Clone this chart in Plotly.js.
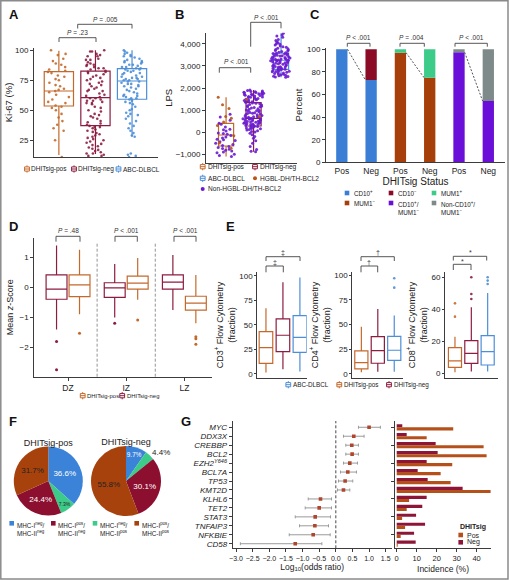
<!DOCTYPE html>
<html>
<head>
<meta charset="utf-8">
<script src="https://cdn.plot.ly/plotly-3.0.1.min.js"></script>
<style>
html,body{margin:0;padding:0;background:#fff;}
#chart{width:509px;height:580px;}
</style>
</head>
<body>
<div id="chart"></div>
<script>
// ================= DATA =================
// Panel A - Ki-67 (%)
const groupsA = ['DHITsig-pos', 'DHITsig-neg', 'ABC-DLBCL'];
const ki67Q1 = [53.6, 37.2, 59.2];
const ki67Median = [66.1, 60.5, 74.4];
const ki67Q3 = [82.2, 82.7, 84.7];
const ki67Low = [12.8, 13.6, 28.0];
const ki67High = [99.6, 100, 100];
const ki67Pos = [100, 97, 96, 93, 91, 89, 88, 86, 84, 83, 82, 81, 79, 78, 76, 75, 73, 71, 70, 68, 67, 66, 65, 63, 61, 59, 57, 56, 54, 53, 52, 50, 47, 44, 41, 38, 35, 33, 25, 11];
const ki67Neg = [100, 99, 99, 97, 96, 95, 93, 92, 92, 90, 89, 88, 87, 86, 85, 85, 84, 83, 82, 82, 81, 80, 78, 77, 76, 75, 74, 73, 72, 71, 70, 68, 67, 66, 66, 64, 63, 62, 61, 60, 60, 59, 58, 57, 56, 56, 55, 53, 52, 50, 49, 47, 46, 44, 43, 41, 40, 39, 38, 37, 36, 36, 35, 33, 32, 31, 30, 29, 28, 27, 26, 25, 24, 22, 21, 20, 19, 18, 17, 16, 15, 14, 14, 13, 12, 12, 88, 79, 69, 58, 45, 34, 23, 95];
const ki67Abc = [100, 99, 98, 97, 96, 95, 95, 94, 93, 92, 91, 90, 90, 89, 88, 88, 87, 86, 86, 85, 85, 84, 83, 83, 82, 81, 81, 80, 79, 78, 78, 77, 76, 76, 75, 75, 74, 74, 73, 72, 72, 71, 70, 69, 68, 67, 66, 65, 64, 63, 62, 61, 60, 60, 59, 58, 56, 55, 53, 51, 50, 48, 47, 45, 43, 41, 39, 37, 35, 33, 31, 29, 28, 14, 13, 12, 11, 10, 91, 84, 77, 70, 62, 57, 46];

// Panel B - LPS
const lpsQ1 = [-620, 285, 2850];
const lpsMedian = [-122, 633, 3258];
const lpsQ3 = [407, 1340, 3575];
const lpsLow = [-1100, -877, 2490];
const lpsHigh = [1584, 1914, 4480];
const lpsPosHGBL = [1584, 1250, 1080, 720, 640, 470, 310, -160, -480, -720];
const lpsPosNon = [820, 690, 540, 410, 360, 240, 140, 60, -30, -90, -140, -210, -260, -310, -370, -430, -490, -550, -600, -640, -690, -730, -770, -810, -850, -890, -930, -990, -1050, -1100, 110, -60, -340];
const lpsNegHGBL = [1480, 720];
const lpsNegNon = [1914, 1890, 1870, 1850, 1835, 1820, 1800, 1785, 1770, 1750, 1740, 1720, 1700, 1690, 1675, 1660, 1640, 1620, 1600, 1575, 1550, 1530, 1510, 1490, 1470, 1440, 1420, 1400, 1380, 1355, 1330, 1310, 1290, 1260, 1230, 1200, 1180, 1150, 1125, 1100, 1070, 1040, 1010, 990, 960, 930, 900, 880, 855, 830, 810, 790, 765, 740, 720, 700, 685, 670, 655, 640, 625, 610, 595, 580, 560, 540, 520, 500, 485, 470, 455, 440, 425, 410, 390, 370, 350, 330, 310, 290, 275, 260, 240, 215, 190, 160, 130, 100, 70, 40, 10, -40, -110, -190, -270, -380, -500, -640, -780, -877, -860, 1710, 1460, 1160, 860, 560, 360, 170, 1590, 1380, 980, 620, 450, 1810];
const lpsAbcNon = [4480, 4400, 4350, 4300, 4200, 4150, 4100, 4050, 4000, 3980, 3950, 3900, 3870, 3850, 3800, 3780, 3750, 3720, 3700, 3680, 3650, 3620, 3600, 3580, 3560, 3540, 3520, 3500, 3480, 3460, 3440, 3420, 3400, 3380, 3360, 3340, 3320, 3300, 3290, 3280, 3270, 3260, 3250, 3240, 3230, 3220, 3200, 3180, 3160, 3140, 3120, 3100, 3080, 3060, 3040, 3020, 3000, 2980, 2960, 2940, 2920, 2900, 2880, 2860, 2850, 2840, 2820, 2800, 2780, 2760, 2740, 2720, 2700, 2680, 2660, 2640, 2620, 2600, 2580, 2560, 2540, 2520, 2500, 2490, 3350, 3150, 2950, 2750, 3550, 3450];

// Panel C - IHC percentages
const ihcBars = [0, 1, 2, 3, 4, 5];
const ihcTicks = ['Pos', 'Neg', 'Pos', 'Neg', 'Pos', 'Neg'];
const cd10Pos = [100, 72.8];
const cd10Neg = [0, 27.2];
const mum1Neg = [97.0, 74.9];
const mum1Pos = [3.0, 25.1];
const cd10PosMum1Neg = [97.3, 54.2];
const nonCd10PosMum1Neg = [2.7, 45.8];
const pvalC = ['<i>P</i> &lt; .001', '<i>P</i> = .004', '<i>P</i> &lt; .001'];

// Panel D - mean z-score by zone
const zones = ['DZ', 'IZ', 'LZ'];
const zNegQ1 = [-0.39, -0.33, -0.05];
const zNegMedian = [-0.05, -0.01, 0.18];
const zNegQ3 = [0.42, 0.16, 0.42];
const zNegLow = [-1.40, -1.00, -0.75];
const zNegHigh = [1.40, 0.78, 1.08];
const zPosQ1 = [-0.30, -0.05, -0.75];
const zPosMedian = [0.09, 0.15, -0.52];
const zPosQ3 = [0.42, 0.38, -0.29];
const zPosLow = [-0.89, -0.41, -1.19];
const zPosHigh = [1.26, 0.98, 0.42];
const zNegOutZone = ['DZ', 'DZ', 'IZ'];
const zNegOut = [-1.80, -2.74, -1.19];
const zPosOutZone = ['DZ', 'IZ', 'LZ', 'LZ', 'LZ'];
const zPosOut = [-1.52, -1.08, -1.64, -1.71, -1.89];
const pvalD = ['<i>P</i> = .48', '<i>P</i> &lt; .001', '<i>P</i> &lt; .001'];

// Panel E - flow cytometry (order: pos, neg, ABC)
const cd3Q1 = [10.9, 22.8, 22.1], cd3Median = [26.9, 39.5, 37.4], cd3Q3 = [43.2, 56.1, 59.5], cd3Low = [1.4, 4.8, 2.4], cd3High = [67.0, 93.5, 98.3];
const cd4Q1 = [4.8, 10.6, 13.6], cd4Median = [11.2, 23.4, 23.8], cd4Q3 = [23.1, 37.6, 38.0], cd4Low = [1.4, 2.0, 2.0], cd4High = [47.8, 65.8, 59.0];
const cd4OutGroup = ['ABC-DLBCL', 'ABC-DLBCL'];
const cd4Out = [97.0, 87.4];
const cd8Q1 = [3.75, 6.2, 5.2], cd8Median = [7.7, 12.5, 13.5], cd8Q3 = [16.0, 20.4, 23.5], cd8Low = [0.6, 1.2, 1.2], cd8High = [22.9, 41.2, 50.2];
const cd8OutGroup = ['DHITsig-pos', 'DHITsig-pos', 'DHITsig-neg', 'DHITsig-neg', 'DHITsig-neg', 'ABC-DLBCL', 'ABC-DLBCL', 'ABC-DLBCL'];
const cd8Out = [43.7, 35.4, 60.0, 49.5, 46.4, 60.0, 57.9, 55.8];
const sigE = ['‡', '†', '*'];

// Panel F - MHC pies (slice order clockwise from 12 o'clock)
const mhcLabels = ['MHC-I<sup>neg</sup>/<br>MHC-II<sup>neg</sup>', 'MHC-I<sup>neg</sup>/<br>MHC-II<sup>pos</sup>', 'MHC-I<sup>pos</sup>/<br>MHC-II<sup>neg</sup>', 'MHC-I<sup>pos</sup>/<br>MHC-II<sup>pos</sup>'];
const mhcPos = [36.6, 7.3, 24.4, 31.7];
const mhcNeg = [9.7, 4.4, 30.1, 55.8];
const mhcLegendOrder = [0, 2, 1, 3];

// Panel G - mutations
const genes = ['MYC', 'DDX3X', 'CREBBP', 'BCL2', 'EZH2', 'BCL7A', 'TP53', 'KMT2D', 'KLHL6', 'TET2', 'STAT3', 'TNFAIP3', 'NFKBIE', 'CD58'];
const geneLabels = ['MYC', 'DDX3X', 'CREBBP', 'BCL2', 'EZH2<sup>Y646</sup>', 'BCL7A', 'TP53', 'KMT2D', 'KLHL6', 'TET2', 'STAT3', 'TNFAIP3', 'NFKBIE', 'CD58'];
const logOR = [1.00, 0.54, 0.48, 0.49, 0.42, 0.36, 0.28, 0.23, -0.46, -0.50, -0.62, -0.63, -0.68, -1.22];
const ciLow = [0.68, 0.23, 0.30, 0.30, 0.23, 0.14, 0.08, 0.05, -0.83, -0.92, -1.22, -1.09, -1.40, -2.87];
const ciHigh = [1.34, 0.85, 0.68, 0.68, 0.65, 0.62, 0.51, 0.42, -0.13, -0.13, -0.16, -0.22, -0.17, -0.42];
const incPos = [28.3, 15.0, 43.5, 45.0, 27.8, 22.0, 27.0, 47.0, 6.2, 5.0, 2.7, 4.2, 2.0, 0.5];
const incNeg = [2.8, 5.0, 19.5, 20.5, 15.0, 10.5, 15.5, 33.0, 15.0, 12.8, 9.7, 14.2, 8.7, 9.5];

// ================= STYLE / HELPERS =================
const W = 509, H = 580;
const X = p => p / W;
const Y = p => 1 - p / H;
const FONT = 'Liberation Sans, Arial, Helvetica, sans-serif';
const C_POS = '#C4692C', C_NEG = '#8C1D40', C_ABC = '#4C8ED8';
const C_PURPLE = '#6A1BD0', C_HGBL = '#B5561A';
const colsA = [C_POS, C_NEG, C_ABC];
const C_IHC = {blue: '#3B7ED6', red: '#8B0A25', green: '#3DCB8A', brown: '#A63F0A', purple: '#6A0FD8', gray: '#7E8A8A'};
const pieCols = ['#3B82D9', '#3DCB8A', '#8C0F30', '#A8420C'];

const traces = [], shapes = [], annotations = [];

function axis(o) {
  return Object.assign({
    showline: true, linecolor: '#3c3c3c', linewidth: 1,
    ticks: 'outside', ticklen: 3, tickwidth: 1, tickcolor: '#3c3c3c',
    showgrid: false, zeroline: false, fixedrange: true, automargin: false,
    tickfont: {family: FONT, size: 8, color: '#222'}
  }, o);
}
function ttl(text, size, standoff) {
  return {text: text, font: {family: FONT, size: size, color: '#222'}, standoff: standoff};
}
function statBoxes(xa, ya, cats, q1, med, q3, lo, hi, colors, width, group) {
  cats.forEach((c, i) => traces.push({
    type: 'box', xaxis: xa, yaxis: ya, name: c, x: [c],
    q1: [q1[i]], median: [med[i]], q3: [q3[i]], lowerfence: [lo[i]], upperfence: [hi[i]],
    width: width, whiskerwidth: 0, boxpoints: false,
    line: {color: colors[i], width: 1.2}, fillcolor: 'rgba(255,255,255,0)',
    showlegend: false, hoverinfo: 'skip', alignmentgroup: group, offsetgroup: group
  }));
}
function pointBox(xa, ya, cat, vals, color, width, jitter, size, group, offs) {
  traces.push({
    type: 'box', xaxis: xa, yaxis: ya, x: vals.map(() => cat), y: vals,
    boxpoints: 'all', jitter: jitter, pointpos: 0, width: width, whiskerwidth: 0,
    line: {width: 0, color: 'rgba(0,0,0,0)'}, fillcolor: 'rgba(0,0,0,0)',
    marker: {color: color, size: size, opacity: 0.9, line: {width: 0}},
    showlegend: false, hoverinfo: 'skip', alignmentgroup: group, offsetgroup: offs || group
  });
}
function bracket(x1, x2, y, leg1, leg2, text, lx, ly, size) {
  shapes.push({type: 'path', xref: 'paper', yref: 'paper',
    path: 'M' + X(x1) + ',' + Y(leg1) + ' L' + X(x1) + ',' + Y(y) + ' L' + X(x2) + ',' + Y(y) + ' L' + X(x2) + ',' + Y(leg2),
    line: {color: '#444', width: 0.9}});
  annotations.push({xref: 'paper', yref: 'paper', x: X(lx), y: Y(ly), text: text, showarrow: false,
    xanchor: 'center', yanchor: 'middle', font: {family: FONT, size: size || 6.5, color: '#333'}});
}
function label(x, y, text, size, opts) {
  annotations.push(Object.assign({xref: 'paper', yref: 'paper', x: X(x), y: Y(y), text: text, showarrow: false,
    xanchor: 'left', yanchor: 'middle', align: 'left', borderpad: 0,
    font: {family: FONT, size: size, color: '#222'}}, opts || {}));
}
function boxIcon(cx, cy, color) {
  const L = {color: color, width: 1};
  const b = {xref: 'paper', yref: 'paper', line: L};
  shapes.push(Object.assign({type: 'rect', x0: X(cx - 2.4), x1: X(cx + 2.4), y0: Y(cy + 2.1), y1: Y(cy - 2.1), fillcolor: 'rgba(0,0,0,0)'}, b));
  shapes.push(Object.assign({type: 'line', x0: X(cx - 2.4), x1: X(cx + 2.4), y0: Y(cy), y1: Y(cy)}, b));
  shapes.push(Object.assign({type: 'line', x0: X(cx), x1: X(cx), y0: Y(cy - 2.1), y1: Y(cy - 3.6)}, b));
  shapes.push(Object.assign({type: 'line', x0: X(cx), x1: X(cx), y0: Y(cy + 2.1), y1: Y(cy + 3.6)}, b));
}
function square(cx, cy, color, s) {
  s = s || 4.6;
  shapes.push({type: 'rect', xref: 'paper', yref: 'paper', x0: X(cx - s / 2), x1: X(cx + s / 2), y0: Y(cy + s / 2), y1: Y(cy - s / 2), line: {width: 0}, fillcolor: color});
}
function dot(cx, cy, color) {
  shapes.push({type: 'circle', xref: 'paper', yref: 'paper', x0: X(cx - 2), x1: X(cx + 2), y0: Y(cy + 2), y1: Y(cy - 2), line: {width: 0}, fillcolor: color});
}

// ================= PANEL A =================
statBoxes('x', 'y', groupsA, ki67Q1, ki67Median, ki67Q3, ki67Low, ki67High, colsA, 0.8, 'A');
[ki67Pos, ki67Neg, ki67Abc].forEach((v, i) => pointBox('x', 'y', groupsA[i], v, colsA[i], 0.8, 0.8, 2.6, 'A'));
bracket(59, 96, 37.7, 42, 42, '<i>P</i> = .23', 77.5, 32);
bracket(77.7, 132, 24.3, 28.5, 28.5, '<i>P</i> = .005', 105, 20);
[[27, 30.2], [74, 77.2], [118.5, 121.7]].forEach((p, i) => { boxIcon(p[0], 169, colsA[i]); label(p[1], 169, groupsA[i], 6.5); });

// ================= PANEL B =================
statBoxes('x2', 'y2', groupsA, lpsQ1, lpsMedian, lpsQ3, lpsLow, lpsHigh, colsA, 0.55, 'B');
pointBox('x2', 'y2', groupsA[0], lpsPosNon, C_PURPLE, 0.8, 1, 3, 'B');
pointBox('x2', 'y2', groupsA[0], lpsPosHGBL, C_HGBL, 0.8, 1, 3, 'B');
pointBox('x2', 'y2', groupsA[1], lpsNegNon, C_PURPLE, 0.8, 1, 3, 'B');
pointBox('x2', 'y2', groupsA[1], lpsNegHGBL, C_HGBL, 0.8, 1, 3, 'B');
pointBox('x2', 'y2', groupsA[2], lpsAbcNon, C_PURPLE, 0.8, 1, 3, 'B');
bracket(219.3, 250.7, 67.7, 72.7, 72.7, '<i>P</i> &lt; .001', 236.7, 61.7);
bracket(250.7, 281, 22.3, 46.7, 28.3, '<i>P</i> &lt; .001', 266.7, 17.3);
boxIcon(202.7, 166.7, C_POS); label(206.8, 166.7, groupsA[0], 6.6);
boxIcon(255, 166.7, C_NEG); label(259.1, 166.7, groupsA[1], 6.6);
boxIcon(202.7, 178.3, C_ABC); label(206.8, 178.3, groupsA[2], 6.6);
dot(255, 178.3, C_HGBL); label(259.1, 178.3, 'HGBL-DH/TH-BCL2', 6.6);
dot(202.7, 189, C_PURPLE); label(206.8, 189, 'Non-HGBL-DH/TH-BCL2', 6.6);

// ================= PANEL C =================
const wC = 0.386;
const cBar = (xs, ys, base, color, name) => traces.push({type: 'bar', xaxis: 'x3', yaxis: 'y3', x: xs, y: ys, base: base,
  width: wC, marker: {color: color, line: {width: 0}}, name: name, offsetgroup: 'C', alignmentgroup: 'C', showlegend: false, hoverinfo: 'skip'});
cBar(ihcBars.slice(0, 2), cd10Pos, undefined, C_IHC.blue, 'CD10+');
cBar(ihcBars.slice(0, 2), cd10Neg, cd10Pos, C_IHC.red, 'CD10-');
cBar(ihcBars.slice(2, 4), mum1Neg, undefined, C_IHC.brown, 'MUM1-');
cBar(ihcBars.slice(2, 4), mum1Pos, mum1Neg, C_IHC.green, 'MUM1+');
cBar(ihcBars.slice(4, 6), cd10PosMum1Neg, undefined, C_IHC.purple, 'CD10+/MUM1-');
cBar(ihcBars.slice(4, 6), nonCd10PosMum1Neg, cd10PosMum1Neg, C_IHC.gray, 'Non-CD10+/MUM1-');
[[cd10Pos, 0], [mum1Neg, 2], [cd10PosMum1Neg, 4]].forEach(([arr, i]) => shapes.push({type: 'line', xref: 'x3', yref: 'y3',
  x0: ihcBars[i] + wC / 2, y0: arr[0], x1: ihcBars[i + 1] - wC / 2, y1: arr[1], line: {color: '#555', width: 1, dash: '2px,1.6px'}}));
bracket(347.3, 370, 43.3, 46.7, 46.7, pvalC[0], 358.3, 37.7);
bracket(400, 424.3, 43.3, 46.7, 46.7, pvalC[1], 411.7, 37.7);
bracket(455, 487.3, 43.3, 46.7, 46.7, pvalC[2], 471, 37.7);
square(347, 193, C_IHC.blue); label(352.5, 193, 'CD10<sup>+</sup>', 6.3);
square(391, 193, C_IHC.red); label(396.5, 193, 'CD10<sup>−</sup>', 6.3);
square(434, 193, C_IHC.green); label(439.5, 193, 'MUM1<sup>+</sup>', 6.3);
square(347, 203, C_IHC.brown); label(352.5, 203, 'MUM1<sup>−</sup>', 6.3);
square(391, 203, C_IHC.purple); label(396.5, 199, 'CD10<sup>+</sup>/<br>MUM1<sup>−</sup>', 6.3, {yanchor: 'top'});
square(434, 203, C_IHC.gray); label(439.5, 199, 'Non-CD10<sup>+</sup>/<br>MUM1<sup>−</sup>', 6.3, {yanchor: 'top'});

// ================= PANEL D =================
const dBox = (q1, med, q3, lo, hi, color, grp) => traces.push({type: 'box', xaxis: 'x4', yaxis: 'y4', x: zones,
  q1: q1, median: med, q3: q3, lowerfence: lo, upperfence: hi, whiskerwidth: 0, boxpoints: false,
  line: {color: color, width: 1.2}, fillcolor: '#ffffff', alignmentgroup: 'D', offsetgroup: grp, showlegend: false, hoverinfo: 'skip'});
dBox(zNegQ1, zNegMedian, zNegQ3, zNegLow, zNegHigh, C_NEG, 'neg');
dBox(zPosQ1, zPosMedian, zPosQ3, zPosLow, zPosHigh, C_POS, 'pos');
const dOut = (xs, ys, color, grp) => traces.push({type: 'box', xaxis: 'x4', yaxis: 'y4', x: xs, y: ys,
  boxpoints: 'all', jitter: 0, pointpos: 0, line: {width: 0, color: 'rgba(0,0,0,0)'}, fillcolor: 'rgba(0,0,0,0)',
  marker: {color: color, size: 3, line: {width: 0}}, alignmentgroup: 'D', offsetgroup: grp, showlegend: false, hoverinfo: 'skip'});
dOut(zNegOutZone, zNegOut, C_NEG, 'neg');
dOut(zPosOutZone, zPosOut, C_POS, 'pos');
[0.5, 1.5].forEach(v => shapes.push({type: 'line', xref: 'x4', yref: 'y4 domain', x0: v, x1: v, y0: 0, y1: 0.97,
  line: {color: '#777', width: 0.8, dash: '3px,2px'}}));
bracket(56, 80, 236.3, 241.7, 241.7, pvalD[0], 68, 230);
bracket(115, 137.3, 236.3, 241.7, 241.7, pvalD[1], 126, 230);
bracket(174, 196, 236.3, 241.7, 241.7, pvalD[2], 185, 230);
boxIcon(82.7, 395.7, C_POS); label(86.3, 395.7, groupsA[0], 5.9);
boxIcon(122.2, 395.7, C_NEG); label(125.8, 395.7, groupsA[1], 5.9);

// ================= PANEL E =================
statBoxes('x5', 'y5', groupsA, cd3Q1, cd3Median, cd3Q3, cd3Low, cd3High, colsA, 0.8, 'E1');
statBoxes('x6', 'y6', groupsA, cd4Q1, cd4Median, cd4Q3, cd4Low, cd4High, colsA, 0.8, 'E2');
statBoxes('x7', 'y7', groupsA, cd8Q1, cd8Median, cd8Q3, cd8Low, cd8High, colsA, 0.8, 'E3');
const eOut = (xa, ya, grpNames, vals, group) => groupsA.forEach((g, i) => {
  const v = vals.filter((_, k) => grpNames[k] === g);
  if (v.length) pointBox(xa, ya, g, v, colsA[i], 0.8, 0, 2.6, group);
});
eOut('x6', 'y6', cd4OutGroup, cd4Out, 'E2');
eOut('x7', 'y7', cd8OutGroup, cd8Out, 'E3');
bracket(266, 300, 256.7, 261, 261, sigE[0], 283.3, 252.3, 7);
bracket(266, 283.3, 266, 272.3, 272.3, sigE[0], 275, 262.3, 7);
bracket(361, 394.3, 256.7, 261, 261, sigE[1], 377.7, 252.3, 7);
bracket(361, 377.7, 266, 272.3, 272.3, sigE[1], 369.3, 262.3, 7);
bracket(453.3, 486.7, 256.3, 260.5, 260.5, sigE[2], 470, 253, 7);
bracket(453.3, 471, 264.3, 270, 270, sigE[2], 462, 261.5, 7);
boxIcon(288.3, 384.7, C_ABC); label(292.2, 384.7, groupsA[2], 6.3);
boxIcon(339.3, 384.7, C_POS); label(343.2, 384.7, groupsA[0], 6.3);
boxIcon(389, 384.7, C_NEG); label(392.9, 384.7, groupsA[1], 6.3);

// ================= PANEL F =================
const pie = (vals, dom, title, textpos, textcols) => traces.push({type: 'pie', values: vals, labels: mhcLabels, sort: false,
  direction: 'clockwise', rotation: 0, domain: dom, marker: {colors: pieCols, line: {width: 0}},
  texttemplate: '%{percent:.1%}', textposition: textpos, insidetextorientation: 'horizontal',
  textfont: {family: FONT, size: 8, color: textcols},
  title: {text: title, position: 'top center', font: {family: FONT, size: 9, color: '#222'}},
  showlegend: false, hoverinfo: 'skip'});
pie(mhcPos, {x: [X(13.8), X(82.8)], y: [Y(516.8), Y(435.3)]}, 'DHITsig-pos', 'inside', ['#ffffff', '#222', '#ffffff', '#222']);
pie(mhcNeg, {x: [X(91), X(161)], y: [Y(517.3), Y(434.8)]}, 'DHITsig-neg', ['inside', 'outside', 'inside', 'inside'], ['#ffffff', '#222', '#ffffff', '#222']);
[[11.7, 15.6], [53.3, 57.4], [95, 99.2], [136.7, 140.8]].forEach((p, j) => {
  const k = mhcLegendOrder[j];
  square(p[0], 523.3, pieCols[k]);
  label(p[1], 519.5, mhcLabels[k], 6.3, {yanchor: 'top'});
});

// ================= PANEL G =================
traces.push({type: 'scatter', mode: 'markers', xaxis: 'x8', yaxis: 'y8', x: logOR, y: genes,
  error_x: {type: 'data', symmetric: false, array: logOR.map((v, i) => ciHigh[i] - v), arrayminus: logOR.map((v, i) => v - ciLow[i]),
    color: '#9a9a9a', thickness: 1, width: 1.5},
  marker: {color: '#B0452B', size: 3.6, symbol: 'square'}, showlegend: false, hoverinfo: 'skip'});
traces.push({type: 'bar', orientation: 'h', xaxis: 'x9', yaxis: 'y9', y: genes, x: incNeg, name: 'Neg',
  marker: {color: '#8C1538', line: {width: 0}}, offsetgroup: 'neg', alignmentgroup: 'G', showlegend: false, hoverinfo: 'skip'});
traces.push({type: 'bar', orientation: 'h', xaxis: 'x9', yaxis: 'y9', y: genes, x: incPos, name: 'Pos',
  marker: {color: '#B5501A', line: {width: 0}}, offsetgroup: 'pos', alignmentgroup: 'G', showlegend: false, hoverinfo: 'skip'});
shapes.push({type: 'line', xref: 'x8', yref: 'y8 domain', x0: 0, x1: 0, y0: 0, y1: 1, line: {color: '#333', width: 0.9, dash: '3px,2px'}});
label(459.3, 527, '<b>DHITsig</b>', 7);
square(460.7, 535, '#B5501A'); label(465.5, 535, 'Pos', 7);
square(460.7, 542.3, '#8C1538'); label(465.5, 542.3, 'Neg', 7);

// ================= PANEL LETTERS / FRAME =================
[['A', 8, 15], ['B', 173.5, 15], ['C', 309, 15], ['D', 8, 226.7], ['E', 225, 226.7], ['F', 8, 421.7], ['G', 180, 421.7]].forEach(p =>
  label(p[1], p[2], '<b>' + p[0] + '</b>', 13, {font: {family: FONT, size: 13, color: '#111'}}));
shapes.push({type: 'rect', xref: 'paper', yref: 'paper', x0: X(0.8), x1: X(508), y0: Y(579), y1: Y(0.8), line: {color: '#8a8a8a', width: 1.5}});

// ================= LAYOUT =================
const layout = {
  width: W, height: H, margin: {l: 0, r: 0, t: 0, b: 0}, autosize: false,
  paper_bgcolor: '#ffffff', plot_bgcolor: 'rgba(0,0,0,0)',
  font: {family: FONT, size: 8, color: '#222'},
  showlegend: false, boxmode: 'group', boxgap: 0.21, boxgroupgap: 0.09, barmode: 'group', bargap: 0.3,
  // A
  xaxis: axis({domain: [X(34), X(158)], anchor: 'y', type: 'category', categoryorder: 'array', categoryarray: groupsA, range: [-0.68, 2.71], showticklabels: false, ticks: ''}),
  yaxis: axis({domain: [Y(157), Y(48)], anchor: 'x', range: [11.1, 101.9], dtick: 25, tick0: 0, title: ttl('Ki-67 (%)', 9.5, 0)}),
  // B
  xaxis2: axis({domain: [X(206), X(297)], anchor: 'y2', type: 'category', categoryorder: 'array', categoryarray: groupsA, range: [-0.73, 2.58], showticklabels: false, ticks: ''}),
  yaxis2: axis({domain: [Y(162.7), Y(32.8)], anchor: 'x2', range: [-1375, 4500], dtick: 1000, tick0: 0, separatethousands: true, title: ttl('LPS', 9.5, 1)}),
  // C
  xaxis3: axis({domain: [X(326), X(505)], anchor: 'y3', range: [-0.54, 5.57], tickvals: ihcBars, ticktext: ihcTicks, ticks: '', tickfont: {family: FONT, size: 8.5, color: '#222'}, title: ttl('DHITsig Status', 10, 3)}),
  yaxis3: axis({domain: [Y(162.3), Y(47.7)], anchor: 'x3', range: [0, 101.4], dtick: 20, title: ttl('Percent', 9.5, 2)}),
  // D
  xaxis4: axis({domain: [X(34.3), X(211.7)], anchor: 'y4', type: 'category', categoryorder: 'array', categoryarray: zones, range: [-0.58, 2.47], tickfont: {family: FONT, size: 8.5, color: '#222'}}),
  yaxis4: axis({domain: [Y(376.7), Y(238)], anchor: 'x4', range: [-2.97, 1.65], dtick: 1, title: ttl('Mean <i>z</i>-Score', 9, 4)}),
  // E
  xaxis5: axis({domain: [X(257.3), X(306.7)], anchor: 'y5', type: 'category', categoryorder: 'array', categoryarray: groupsA, range: [-0.51, 2.4], showticklabels: false, ticks: ''}),
  yaxis5: axis({domain: [Y(377.7), Y(272.3)], anchor: 'x5', range: [-3.8, 103.7], dtick: 25, ticklen: 2, title: ttl('CD3<sup>+</sup> Flow Cytometry<br>(fraction)', 9, 2)}),
  xaxis6: axis({domain: [X(352.3), X(403.3)], anchor: 'y6', type: 'category', categoryorder: 'array', categoryarray: groupsA, range: [-0.55, 2.55], showticklabels: false, ticks: ''}),
  yaxis6: axis({domain: [Y(377.7), Y(272.3)], anchor: 'x6', range: [-4.07, 103], dtick: 25, ticklen: 2, title: ttl('CD4<sup>+</sup> Flow Cytometry<br>(fraction)', 9, 2)}),
  xaxis7: axis({domain: [X(445), X(498.3)], anchor: 'y7', type: 'category', categoryorder: 'array', categoryarray: groupsA, range: [-0.61, 2.65], showticklabels: false, ticks: ''}),
  yaxis7: axis({domain: [Y(377.7), Y(272.3)], anchor: 'x7', range: [-2.75, 63.1], dtick: 20, ticklen: 2, title: ttl('CD8<sup>+</sup> Flow Cytometry<br>(fraction)', 9, 2)}),
  // G
  xaxis8: axis({domain: [X(232.7), X(391.7)], anchor: 'y8', range: [-3.10, 1.68], dtick: 0.5, tick0: 0, tickformat: '.1f', tickangle: 0, tickfont: {family: FONT, size: 7, color: '#222'}, title: ttl('Log<sub>10</sub>(odds ratio)', 8.5, 2)}),
  yaxis8: axis({domain: [Y(548.3), Y(421)], anchor: 'x8', type: 'category', categoryorder: 'array', categoryarray: genes, range: [13.51, -0.70], tickvals: genes, ticktext: geneLabels, tickfont: {family: FONT, size: 8, color: '#222', style: 'italic'}}),
  xaxis9: axis({domain: [X(395), X(491)], anchor: 'y9', range: [-0.85, 47.2], dtick: 10, tick0: 0, tickangle: 0, tickfont: {family: FONT, size: 7.5, color: '#222'}, title: ttl('Incidence (%)', 8.5, 3)}),
  yaxis9: axis({domain: [Y(548.3), Y(421)], anchor: 'x9', type: 'category', categoryorder: 'array', categoryarray: genes, range: [13.51, -0.70], showticklabels: false}),
  shapes: shapes,
  annotations: annotations
};

Plotly.newPlot('chart', traces, layout, {staticPlot: true, displayModeBar: false});
</script>
</body>
</html>
